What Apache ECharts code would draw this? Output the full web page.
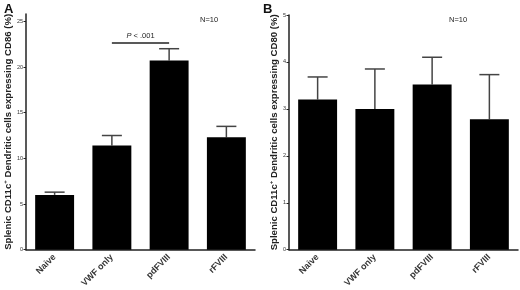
<!DOCTYPE html>
<html>
<head>
<meta charset="utf-8">
<script src="https://cdn.jsdelivr.net/npm/echarts@6/dist/echarts.min.js"></script>
<style>
  html, body { margin: 0; padding: 0; background: #fff; }
  #chart { width: 520px; height: 290px; }
</style>
</head>
<body>
<div id="chart"></div>
<script>
// Groups on the x axis (same for both panels)
const groups = ['Naive', 'VWF only', 'pdFVIII', 'rFVIII'];

// Panel A: CD86+ (%) - mean and top of SEM bar
const cd86Mean = [6.0, 11.4, 20.7, 12.3];
const cd86Upper = [6.3, 12.5, 22.0, 13.5];
const cd86Ticks = [0, 5, 10, 15, 20, 25];

// Panel B: CD80+ (%) - mean and top of SEM bar
const cd80Mean = [3.2, 3.0, 3.52, 2.78];
const cd80Upper = [3.68, 3.85, 4.1, 3.73];
const cd80Ticks = [0, 1, 2, 3, 4, 5];

// significance bracket in panel A
const sigFrom = 'VWF only';
const sigTo = 'pdFVIII';
const sigLevel = 22.7;

const FONT = '"Liberation Sans", Arial, sans-serif';
const AXIS_COLOR = '#222';
const ERR_COLOR = '#444';

const chart = echarts.init(document.getElementById('chart'));

function errorSeries(idx, means, uppers) {
    return {
        type: 'custom',
        xAxisIndex: idx,
        yAxisIndex: idx,
        z: 1,
        silent: true,
        data: groups.map((g, i) => [i, means[i], uppers[i]]),
        renderItem: (params, api) => {
            const base = api.coord([api.value(0), api.value(1)]);
            const top = api.coord([api.value(0), api.value(2)]);
            const half = 10;
            const style = { stroke: ERR_COLOR, lineWidth: 1.5 };
            return {
                type: 'group',
                children: [
                    { type: 'line', shape: { x1: base[0], y1: base[1], x2: top[0], y2: top[1] }, style },
                    { type: 'line', shape: { x1: top[0] - half, y1: top[1], x2: top[0] + half, y2: top[1] }, style }
                ]
            };
        }
    };
}

function xAxisFor(idx) {
    return {
        type: 'category',
        gridIndex: idx,
        data: groups,
        axisLine: { lineStyle: { color: AXIS_COLOR, width: 1.5 } },
        axisTick: { alignWithLabel: true, length: 3, lineStyle: { color: AXIS_COLOR } },
        axisLabel: {
            rotate: 45,
            margin: 6,
            fontFamily: FONT,
            fontWeight: 'bold',
            fontSize: 9,
            color: '#333'
        }
    };
}

function yAxisFor(idx, name, max, ticks, gap) {
    return {
        type: 'value',
        gridIndex: idx,
        min: 0,
        max: max,
        interval: ticks[1] - ticks[0],
        name: name,
        nameLocation: 'middle',
        nameGap: gap,
        nameTextStyle: {
            fontFamily: FONT,
            fontWeight: 'bold',
            fontSize: 9.6,
            color: '#222',
            rich: {
                sup: { fontFamily: FONT, fontWeight: 'bold', fontSize: 6, color: '#222', padding: [0, 0, 6, 0] }
            }
        },
        axisLine: { show: true, lineStyle: { color: AXIS_COLOR, width: 1.5 } },
        axisTick: { show: true, length: 2.5, customValues: ticks, lineStyle: { color: AXIS_COLOR } },
        axisLabel: {
            customValues: ticks,
            margin: 3,
            fontFamily: FONT,
            fontSize: 5.5,
            color: '#333'
        },
        splitLine: { show: false }
    };
}

const option = {
    backgroundColor: '#fff',
    animation: false,
    title: [
        { text: 'A', left: -1, top: -2, textStyle: { fontFamily: FONT, fontWeight: 'bold', fontSize: 13, color: '#111' } },
        { text: 'B', left: 258, top: -2, textStyle: { fontFamily: FONT, fontWeight: 'bold', fontSize: 13, color: '#111' } },
        { text: 'N=10', left: 195, top: 11, textStyle: { fontFamily: FONT, fontWeight: 'normal', fontSize: 7.5, color: '#222' } },
        { text: 'N=10', left: 444, top: 11, textStyle: { fontFamily: FONT, fontWeight: 'normal', fontSize: 7.5, color: '#222' } }
    ],
    grid: [
        { left: 26, right: 265, top: 14, bottom: 37 },
        { left: 289, right: 2, top: 15, bottom: 36 }
    ],
    xAxis: [xAxisFor(0), xAxisFor(1)],
    yAxis: [
        yAxisFor(0, 'Splenic CD11c{sup|+} Dendritic cells expressing CD86 (%)', 25.8, cd86Ticks, 12),
        yAxisFor(1, 'Splenic CD11c{sup|+} Dendritic cells expressing CD80 (%)', 5, cd80Ticks, 6)
    ],
    series: [
        {
            type: 'bar',
            xAxisIndex: 0,
            yAxisIndex: 0,
            barWidth: '68%',
            itemStyle: { color: '#000' },
            data: cd86Mean,
            z: 2,
            markLine: {
                silent: true,
                symbol: 'none',
                lineStyle: { color: '#222', width: 1.5, type: 'solid' },
                label: {
                    show: true,
                    position: 'middle',
                    distance: 2,
                    formatter: '{i|P} < .001',
                    fontFamily: FONT,
                    fontSize: 7.5,
                    color: '#222',
                    rich: { i: { fontFamily: FONT, fontStyle: 'italic', fontSize: 7.5, color: '#222' } }
                },
                data: [[{ coord: [sigFrom, sigLevel] }, { coord: [sigTo, sigLevel] }]]
            }
        },
        errorSeries(0, cd86Mean, cd86Upper),
        {
            type: 'bar',
            xAxisIndex: 1,
            yAxisIndex: 1,
            barWidth: '68%',
            itemStyle: { color: '#000' },
            data: cd80Mean,
            z: 2
        },
        errorSeries(1, cd80Mean, cd80Upper)
    ]
};

chart.setOption(option);
</script>
</body>
</html>
